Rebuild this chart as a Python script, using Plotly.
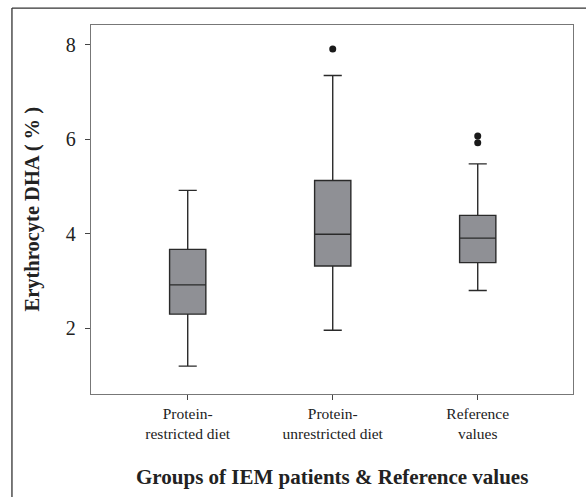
import plotly.graph_objects as go

categories = ["Protein-<br>restricted diet", "Protein-<br>unrestricted diet", "Reference<br>values"]
q1 = [2.30, 3.32, 3.39]
median = [2.92, 3.99, 3.91]
q3 = [3.67, 5.13, 4.39]
lower_whisker = [1.20, 1.96, 2.80]
upper_whisker = [4.92, 7.35, 5.48]
outlier_group = [1, 2, 2]
outlier_value = [7.91, 6.07, 5.93]

xpos = list(range(len(categories)))

fig = go.Figure()
fig.add_trace(go.Box(
    x=xpos, q1=q1, median=median, q3=q3,
    lowerfence=lower_whisker, upperfence=upper_whisker,
    width=0.25, whiskerwidth=0.5,
    fillcolor="#8f9095", line=dict(color="#2a2a2a", width=1.4),
    boxpoints=False, showlegend=False, hoverinfo="skip",
))
fig.add_trace(go.Scatter(
    x=outlier_group, y=outlier_value, mode="markers",
    marker=dict(color="#1a1a1a", size=7), showlegend=False, hoverinfo="skip",
))

font = "Liberation Serif, Times New Roman, serif"
fig.update_layout(
    width=586, height=497,
    margin=dict(l=91, r=13, t=25, b=103),
    paper_bgcolor="white", plot_bgcolor="white",
    font=dict(family=font, color="#222222"),
    xaxis=dict(
        range=[-0.667, 2.657], tickmode="array", tickvals=xpos, ticktext=categories,
        ticks="outside", ticklen=5, tickcolor="#444", showgrid=False, zeroline=False,
        showline=True, linecolor="#777", linewidth=1.3, mirror=True, automargin=False,
        tickfont=dict(size=15.5, family=font),
    ),
    yaxis=dict(
        range=[0.61, 8.42], tickvals=[2, 4, 6, 8],
        ticks="outside", ticklen=5, tickcolor="#444", showgrid=False, zeroline=False,
        showline=True, linecolor="#777", linewidth=1.3, mirror=True, automargin=False,
        tickfont=dict(size=20, family=font), ticklabelstandoff=5,
    ),
    annotations=[
        dict(text="<b>Groups of IEM patients & Reference values</b>", xref="paper", yref="paper",
             x=0.5, y=-0.225, xanchor="center", yanchor="middle", showarrow=False,
             font=dict(size=21, family=font, color="#222222")),
        dict(text="<b>Erythrocyte DHA ( % )</b>", xref="paper", yref="paper",
             x=-0.1224, y=0.5, xanchor="center", yanchor="middle", showarrow=False, textangle=-90,
             font=dict(size=20.5, family=font, color="#222222")),
    ],
    shapes=[
        dict(type="line", xref="paper", yref="paper", x0=-0.164, x1=1.1, y0=1.046, y1=1.046,
             line=dict(color="#333333", width=1.3)),
        dict(type="line", xref="paper", yref="paper", x0=-0.164, x1=-0.164, y0=1.046, y1=-0.32,
             line=dict(color="#333333", width=1.3)),
    ],
)

fig.write_html("out.html", config={"displayModeBar": False},
               post_script="document.body.style.margin='0';")
